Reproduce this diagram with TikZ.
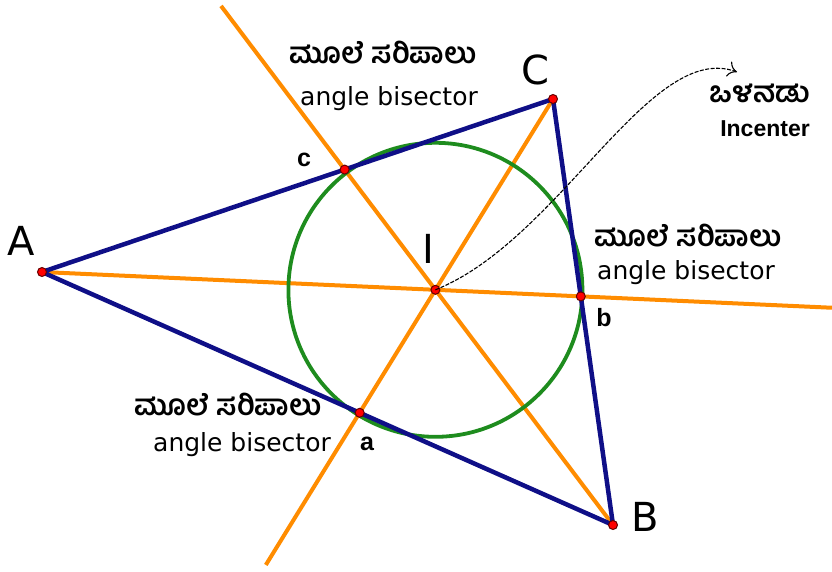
\documentclass[tikz,border=0pt]{standalone}
\usepackage{fontspec}
\setmainfont{DejaVu Sans}
\newfontfamily\kannada[Script=Kannada]{Hind Mysuru}
\newfontfamily\arialb{Liberation Sans}
\usetikzlibrary{calc,arrows.meta}
\definecolor{triblue}{RGB}{15,15,135}
\definecolor{bisorange}{RGB}{255,140,0}
\definecolor{circgreen}{RGB}{30,140,30}
\tikzset{
 side/.style={triblue,line width=4.5pt,line join=round},
 bisector/.style={bisorange,line width=4pt},
 pt/.style={circle,fill=red,draw=red!40!black,line width=1pt,inner sep=0pt,minimum size=9pt},
 vlabel/.style={font=\fontsize{40}{40}\selectfont},
 plabel/.style={font=\arialb\bfseries\fontsize{25}{25}\selectfont},
 kan/.style={inner sep=0pt,text height=13pt,text depth=3pt,font=\kannada\bfseries\fontsize{29}{29}\selectfont},
 eng/.style={inner sep=0pt,text height=17pt,text depth=4pt,font=\fontsize{25}{25}\selectfont}
}

\begin{document}
\begin{tikzpicture}[x=1pt,y=-1pt]
\useasboundingbox (0,0) rectangle (832,571);
\coordinate (A) at (42,272);
\coordinate (B) at (613,525);
\coordinate (C) at (553,99);
\coordinate (I) at (435.4,289.8);
\coordinate (b) at (intersection of A--I and B--C);
\coordinate (c) at (intersection of B--I and A--C);
\coordinate (a) at (intersection of C--I and A--B);
\coordinate (Aend) at ($(A)!2.008!(I)$);
\coordinate (Bend) at ($(B)!2.207!(I)$);
\coordinate (Cend) at ($(C)!2.442!(I)$);
% bisectors
\draw[bisector] (A)--(Aend) (B)--(Bend) (C)--(Cend);
\draw[circgreen,line width=3.8pt] (I) circle (147);
\draw[side] (A)--(B)--(C)--cycle;
\foreach \p in {A,B,C,I,a,b,c}
  \node[pt] at (\p) {};
\draw[line width=1.1pt,dash pattern=on 4pt off 1.5pt,-{To[length=9pt,width=16pt]}]
  (I) .. controls (560,240) and (650,40) .. (737,72);
\node[vlabel] (lA) at (21,241) {A};
\node[vlabel] (lB) at (645,517) {B};
\node[vlabel] (lC) at (535,70) {C};
\node[vlabel] (lI) at (428,249) {I};
\node[plabel] (la) at (367,444) {a};
\node[plabel] (lb) at (604,318) {b};
\node[plabel] (lc) at (304,160) {c};
\node[kan] (kantop) at (383,58) {ಮೂಲೆ ಸರಿಪಾಲು};
\node[eng] (engtop) at (389,99) {angle bisector};
\node[kan] (kanright) at (688,241) {ಮೂಲೆ ಸರಿಪಾಲು};
\node[eng] (engright) at (686,273) {angle bisector};
\node[kan] (kanleft) at (228,410) {ಮೂಲೆ ಸರಿಪಾಲು};
\node[eng] (engleft) at (242,445) {angle bisector};
\node[kan] (kanin) at (760,97) {ಒಳನಡು};
\node[inner sep=0pt,text height=16pt,text depth=1pt,font=\arialb\bfseries\fontsize{23}{23}\selectfont] (incenter) at (765,129) {Incenter};
\end{tikzpicture}
\end{document}
